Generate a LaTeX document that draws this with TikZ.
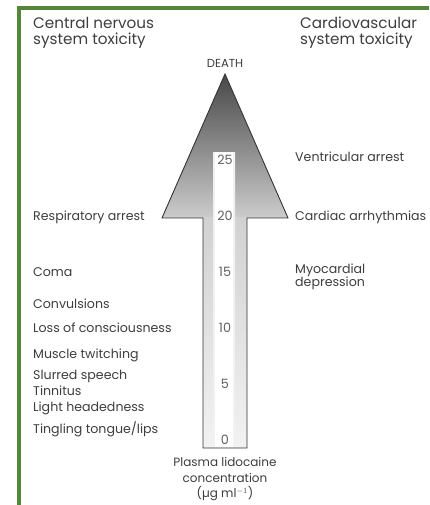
\documentclass[tikz,border=0pt]{standalone}
\usepackage{fontspec}
\setmainfont{Poppins}
\usetikzlibrary{positioning}
\definecolor{framegreen}{RGB}{82,136,56}
\definecolor{txtgray}{RGB}{62,62,62}
\tikzset{
  lbl/.style={anchor=base west, inner sep=0pt, text=txtgray, font=\fontsize{12.6}{14}\selectfont},
  hdr/.style={anchor=base west, inner sep=0pt, text=txtgray, font=\fontsize{15.2}{16}\selectfont},
  num/.style={anchor=base, inner sep=0pt, text=black!62, font=\fontsize{12.8}{14}\selectfont},
  conc/.style={lbl, font=\fontsize{12}{14}\selectfont},
  frame/.style={draw=framegreen, line width=3.2pt},
}
\begin{document}
\begin{tikzpicture}[x=1pt,y=1pt]
   \useasboundingbox (0,0) rectangle (429,505);
   \fill[white] (0,0) rectangle (429,505);

   \coordinate (fb) at (19,0);
   \coordinate (fc) at (19,497);
   \coordinate (fr) at (429,497);
   \draw[frame] (fb) -- (fc) -- (fr);

   \coordinate (tip) at (225,431);
   \coordinate (headL) at (162,287);
   \coordinate (headR) at (288,287);
   \coordinate (shaftL) at (203,287);
   \coordinate (shaftR) at (247,287);
   \coordinate (baseL) at (203,57);
   \coordinate (baseR) at (247,57);

   \shade[top color=black!72, bottom color=black!20] (headL) -- (tip) -- (headR) -- cycle;
   \shade[top color=black!18, bottom color=black!5] (baseL) rectangle (shaftR);
   \shade[left color=black!6, right color=black!6, middle color=white] (213,58) rectangle (235,352);
   \fill[white] (215,58) rectangle (233,352);
   \draw[black!80, line width=0.9pt, line join=miter]
      (baseL) -- (shaftL) -- (headL) -- (tip) -- (headR) -- (shaftR) -- (baseR) -- cycle;

   \node[num] (n25) at (225,340) {25};
   \node[num] (n20) at (225,284) {20};
   \node[num] (n15) at (225,228) {15};
   \node[num] (n10) at (225,172) {10};
   \node[num] (n5)  at (225,116) {5};
   \node[num] (n0)  at (225,60)  {0};

   \node[lbl, anchor=base, font=\fontsize{11.6}{13}\selectfont] (death) at (225,437) {DEATH};

   \node[hdr] (cns1) at (33,476) {Central nervous};
   \node[hdr, below=16pt of cns1.base west, anchor=base west] (cns2) {system toxicity};
   \node[hdr] (cvs1) at (300,476) {Cardiovascular};
   \node[hdr, below=16pt of cvs1.base west, anchor=base west] (cvs2) {system toxicity};

   \node[lbl] (resp) at (33,284) {Respiratory arrest};
   \node[lbl] (coma) at (33,228) {Coma};
   \node[lbl] (conv) at (33,196) {Convulsions};
   \node[lbl] (loss) at (33,172) {Loss of consciousness};
   \node[lbl] (musc) at (33,146) {Muscle twitching};
   \node[lbl] (slur) at (33,125) {Slurred speech};
   \node[lbl, below=16pt of slur.base west, anchor=base west] (tinn) {Tinnitus};
   \node[lbl, below=16pt of tinn.base west, anchor=base west] (light) {Light headedness};
   \node[lbl] (ting) at (33,71) {Tingling tongue/lips};

   \node[lbl] (vent) at (295,343) {Ventricular arrest};
   \node[lbl] (card) at (295,284) {Cardiac arrhythmias};
   \node[lbl] (myo1) at (295,231) {Myocardial};
   \node[lbl, below=13pt of myo1.base west, anchor=base west] (myo2) {depression};

   \node[conc, anchor=base] (pl1) at (225,38) {Plasma lidocaine};
   \node[conc, below=15.5pt of pl1.base, anchor=base] (pl2) {concentration};
   \node[conc, below=15.5pt of pl2.base, anchor=base] (pl3) {(µg ml$^{-1}$)};
\end{tikzpicture}
\end{document}
